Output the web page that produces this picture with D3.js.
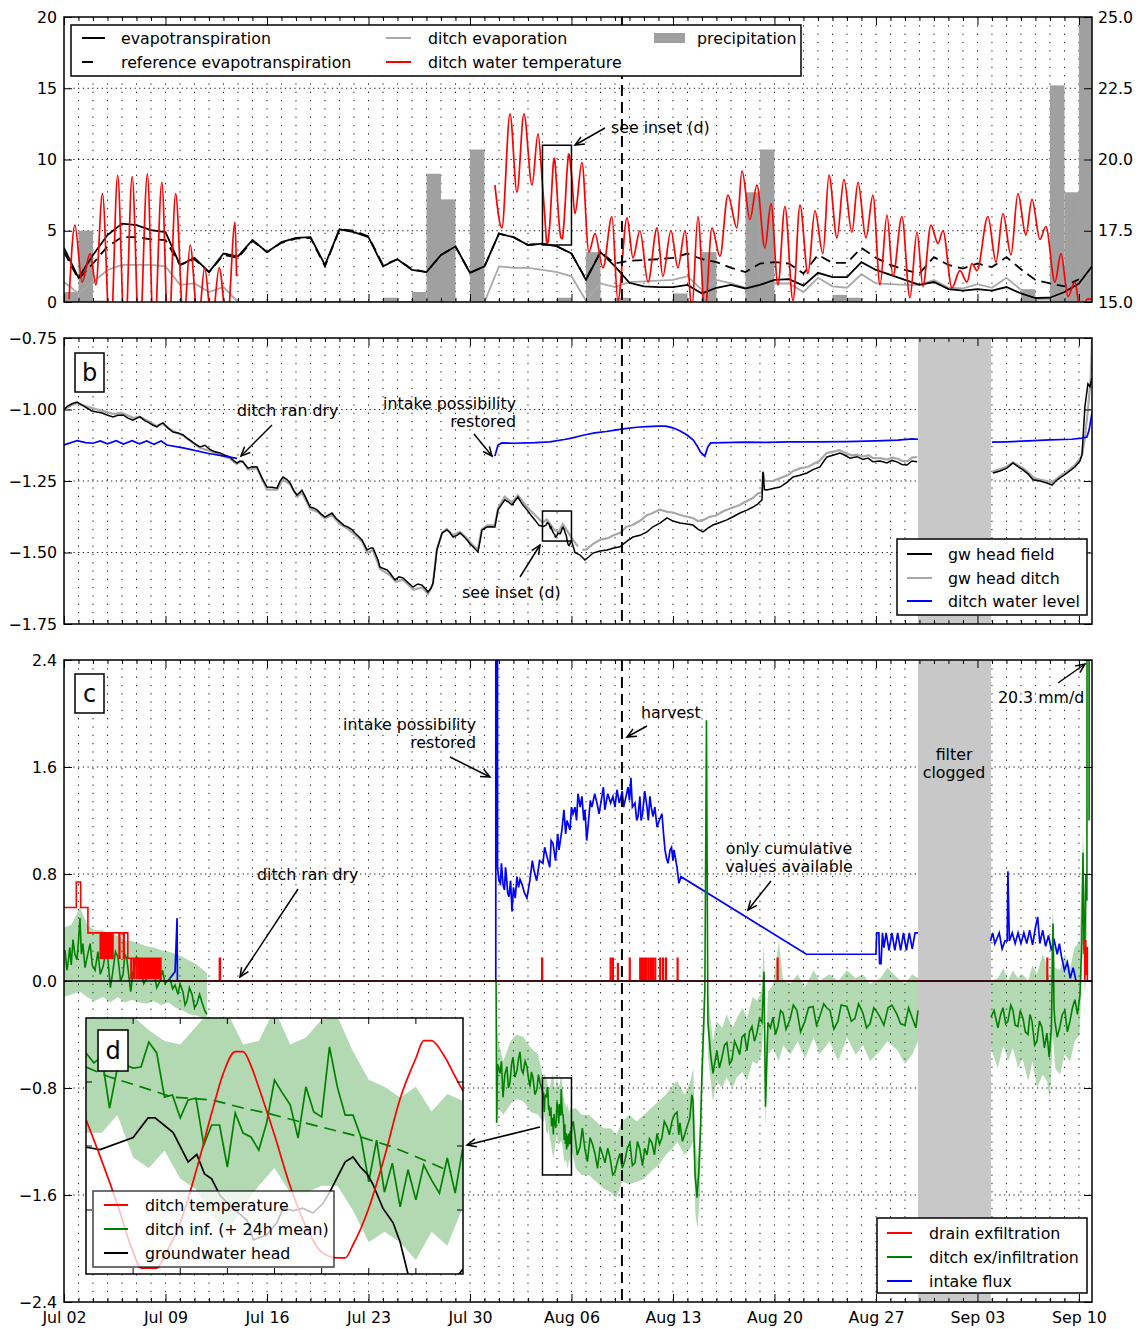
<!DOCTYPE html>
<html><head><meta charset="utf-8">
<script src="https://cdn.jsdelivr.net/npm/d3@7"></script>
<style>body{margin:0;background:#fff}svg{font-family:"DejaVu Sans",sans-serif}</style>
</head><body>
<svg id="chart" width="1138" height="1329"></svg>
<script>
// ---------- time axis (days since Jul 02 00:00) ----------
const weekLabels = ["Jul 02","Jul 09","Jul 16","Jul 23","Jul 30","Aug 06","Aug 13","Aug 20","Aug 27","Sep 03","Sep 10"];
const harvestDay = 38.48;
const cloggedDays = [58.9, 63.93];

// ---------- panel (a): daily fluxes (mm/d) ----------
const precipitation = [[0,0.7],[1,5.0],[2,0.1],[16,0.1],[19,0.1],[22,0.3],[24,0.7],[25,9.0],[26,7.2],[28,10.7],[32,0.1],[34,0.3],[36,3.5],[38,0.3],[42,0.6],[44,3.5],[47,7.7],[48,10.7],[52,0.1],[53,0.5],[54,0.3],[66,0.9],[67,0.1],[68,15.2],[69,7.7],[70,22.0]];
const evapotranspiration = [[0,3.8],[1,1.7],[2,3.3],[3,4.7],[4,5.5],[5,5.4],[6,5.05],[7,4.9],[8,2.6],[9,3.1],[10,2.1],[11,3.4],[12,3.2],[13,4.35],[14,3.5],[15,4.2],[16,4.5],[17,4.55],[18,2.6],[19,5.1],[20,4.9],[21,4.55],[22,2.5],[23,3.0],[24,2.25],[25,2.1],[26,3.3],[27,3.9],[28,2.05],[29,2.5],[30,4.8],[31,4.55],[32,4.0],[33,4.1],[34,3.9],[35,3.4],[36,1.55],[37,3.5],[38,2.5],[39,1.35],[40,1.1],[41,1.05],[42,1.05],[43,1.2],[44,0.6],[45,1.0],[46,1.2],[47,0.95],[48,1.2],[49,1.55],[50,1.6],[51,1.15],[52,2.05],[53,1.75],[54,1.75],[55,2.8],[56,2.25],[57,1.9],[58,1.55],[59,1.2],[60,1.4],[61,0.9],[62,0.8],[63,0.9],[64,0.8],[65,1.05],[66,0.6],[67,0.28],[68,0.3],[69,0.7],[70,1.3],[70.9,2.5]];
const referenceEt = [[0,3.5],[1,1.6],[2,2.7],[3,3.9],[4,4.55],[5,4.55],[6,4.4],[7,4.35],[8,2.6],[9,3.0],[10,2.1],[11,3.3],[12,3.1],[13,4.3],[14,3.5],[15,4.15],[16,4.45],[17,4.5],[18,2.5],[19,5.1],[20,5.0],[21,4.6],[22,2.6],[23,3.0],[24,2.3],[25,2.1],[26,3.3],[27,3.9],[28,2.05],[29,2.5],[30,4.8],[31,4.55],[32,4.0],[33,4.1],[34,3.9],[35,3.4],[36,1.6],[37,3.5],[38,2.7],[39,2.9],[40,2.95],[41,3.0],[42,3.1],[43,3.4],[44,3.0],[45,2.8],[46,2.4],[47,2.1],[48,2.7],[49,2.8],[50,2.7],[51,2.0],[52,3.3],[53,2.75],[54,2.75],[55,3.8],[56,3.1],[57,2.6],[58,2.25],[59,2.0],[60,3.15],[61,2.6],[62,2.35],[63,2.7],[64,2.45],[65,3.15],[66,2.3],[67,1.55],[68,1.3],[69,1.1],[70,1.6]];
const ditchEvaporation = [[0,1.4],[1,0.6],[2,1.4],[3,2.25],[4,2.6],[5,2.6],[6,2.6],[7,2.5],[8,1.2],[9,1.3],[10,0.7],[11,1.05],[12,0],[20,0],[29,0],[30,2.5],[31,2.4],[32,2.4],[33,2.25],[34,2.1],[35,1.8],[36,0.1],[37,1.3],[38,1.05],[39,1.4],[40,1.45],[41,1.5],[42,1.55],[43,1.8],[44,0.85],[45,1.55],[46,1.3],[47,1.0],[48,1.2],[49,1.3],[50,1.3],[51,0.7],[52,1.7],[53,1.1],[54,1.0],[55,1.95],[56,1.3],[57,1.25],[58,1.2],[59,1.2],[60,1.55],[61,1.0],[62,0.95],[63,1.25],[64,1.0],[65,1.7],[66,0.85],[67,0.2],[68,0.2],[69,0.5],[70,1.05],[70.9,2.25]];

// ditch water temperature (deg C)
const tempJuly = [[0.35,15.1],[0.75,17.7],[1.25,15.7],[1.8,16.7],[2.2,15.6],[2.65,18.8],[3.2,13.5],[3.7,19.45],[4.2,13.5],[4.7,19.4],[5.2,13.5],[5.75,19.5],[6.2,13.5],[6.75,19.2],[7.2,13.5],[7.7,18.8],[8.25,14.2],[8.7,17.0],[9.25,14.2],[9.7,16.2],[10.2,14.2],[10.7,16.2],[11.25,14.2],[11.8,17.8],[11.9,15.9]];
const tempAugA = [[29.72,19.1],[30.2,17.6],[30.76,21.6],[31.24,18.85],[31.72,21.6],[32.28,19.1],[32.69,20.9]];
const tempAugB = [[35.24,18.1],[35.72,19.9],[36.2,16.75],[36.62,17.4],[37.17,16.2],[37.79,18.0],[38.2,15.05],[38.83,17.95],[39.24,16.55],[39.72,17.5],[40.28,15.7],[40.9,17.6],[41.3,15.9],[41.86,17.5],[42.34,16.2],[42.83,17.5],[43.31,14.8],[43.72,18.0],[44.2,14.6],[44.69,17.6],[45.24,16.6],[45.79,18.75],[46.41,17.6],[46.76,19.6],[47.31,17.9],[47.79,19.1],[48.34,16.9],[48.76,18.45],[49.24,15.6],[49.72,18.35],[50.28,15.05],[50.76,18.4],[51.31,16.0],[51.79,18.2],[52.34,16.7],[52.76,19.45],[53.31,17.25],[53.79,19.3],[54.34,17.45],[54.76,19.2],[55.31,17.25],[55.79,18.75],[56.28,15.6],[56.76,18.05],[57.17,15.9],[57.79,18.0],[58.34,15.15],[58.83,17.45],[59.24,15.55],[59.79,17.7],[60.28,17.05],[60.62,17.5],[61.24,15.5],[61.79,16.1],[62.28,15.7],[62.62,16.35],[62.97,16.1],[63.72,18.0],[64.28,16.4],[64.76,18.1],[65.31,16.65],[65.79,18.8],[66.34,17.35],[66.76,18.6],[67.31,17.2],[67.72,17.65],[68.34,15.7],[68.76,16.7],[69.24,15.2],[69.72,15.7],[70.07,14.8],[70.4,14.9],[70.55,15.1],[70.9,15.1]];

// ---------- detail record Aug 04 00:00 - Aug 06 00:00 (hours) ----------
const detailStartDay = 33;
const tempDetail = [[0,19.11],[2,18.55],[4,17.95],[6,17.3],[7,17.08],[9,17.08],[10,17.25],[12,17.7],[14,18.4],[16,19.2],[17.5,19.75],[19,20.04],[20,20.04],[21,19.85],[22,19.55],[24,18.9],[26,18.2],[28,17.65],[30,17.3],[32,17.22],[33,17.22],[34,17.4],[36,17.9],[38,18.6],[40,19.4],[42,19.95],[43,20.19],[44,20.19],[45.5,20.0],[47,19.7],[48,19.5]];
const headDetail = [[0,-1.408],[1.8,-1.409],[6,-1.404],[7.9,-1.396],[8.8,-1.396],[11.1,-1.402],[13,-1.414],[14.1,-1.411],[15.1,-1.419],[16,-1.421],[17.1,-1.428],[18.7,-1.433],[20.5,-1.438],[21.3,-1.446],[23,-1.444],[24.3,-1.439],[25.1,-1.433],[26.4,-1.434],[27.6,-1.433],[28.9,-1.435],[30.2,-1.431],[31.1,-1.426],[33,-1.414],[34,-1.412],[34.9,-1.416],[35.8,-1.419],[36.5,-1.423],[37.8,-1.433],[39.1,-1.439],[40,-1.447],[41,-1.46],[42.5,-1.472],[44,-1.476],[45.5,-1.47],[47,-1.462],[48,-1.458]];
const infHourly = [-0.824,-0.852,-0.835,-0.980,-0.867,-0.858,-0.867,-0.864,-0.793,-0.824,-0.949,-0.943,-1.008,-0.957,-0.952,-1.085,-1.028,-1.028,-1.147,-0.994,-1.051,-1.062,-1.099,-1.022,-0.901,-0.937,-0.971,-1.065,-0.920,-0.991,-1.005,-0.807,-0.920,-1.000,-1.000,-1.062,-1.189,-1.071,-1.218,-1.136,-1.260,-1.155,-1.240,-1.141,-1.184,-1.221,-1.121,-1.221,-1.090];
const infMean24h = [[0,-0.864],[3,-0.892],[7,-0.92],[11,-0.949],[16,-0.957],[20,-0.98],[23,-0.994],[26.4,-1.014],[30,-1.034],[35,-1.062],[39,-1.09],[43,-1.127],[46.5,-1.161]];
const bandHours = [0,2,4,6,8,10,12,14,16,18,20,22,24,26,28,30,32,34,36,38,40,42,44,46,48];
const bandLowDetail = [-1.05,-1.05,-1.0,-1.12,-1.15,-1.10,-1.18,-1.21,-1.28,-1.33,-1.26,-1.20,-1.15,-1.22,-1.22,-1.20,-1.20,-1.27,-1.36,-1.33,-1.36,-1.41,-1.33,-1.37,-1.26];
const bandHighDetail = [-0.70,-0.70,-0.70,-0.72,-0.76,-0.79,-0.80,-0.75,-0.70,-0.71,-0.80,-0.79,-0.70,-0.80,-0.78,-0.73,-0.72,-0.82,-0.90,-0.92,-0.95,-0.92,-0.99,-0.94,-0.96];

// ---------- panel (b): heads (m) ----------
const headFieldA = [[0,-1.002],[0.2,-0.99],[0.55,-0.98],[0.9,-0.974],[1.24,-0.985],[1.59,-0.995],[1.93,-1.005],[2.28,-1.009],[2.62,-1.012],[2.97,-1.019],[3.38,-1.026],[3.72,-1.02],[4.07,-1.019],[4.41,-1.03],[4.76,-1.037],[5.03,-1.03],[5.24,-1.026],[5.59,-1.04],[5.79,-1.044],[6.14,-1.055],[6.41,-1.061],[6.62,-1.052],[6.83,-1.047],[7.17,-1.065],[7.52,-1.079],[7.86,-1.082],[8.21,-1.089],[8.48,-1.1],[8.69,-1.107],[9.03,-1.12],[9.38,-1.131],[9.72,-1.125],[10.07,-1.14],[10.41,-1.148],[10.76,-1.152],[11.1,-1.16],[11.45,-1.166],[11.72,-1.18],[11.93,-1.187],[12.14,-1.18],[12.34,-1.183],[12.69,-1.205],[12.97,-1.2],[13.31,-1.201],[13.66,-1.24],[14.0,-1.271],[14.34,-1.272],[14.69,-1.275],[14.9,-1.25],[15.1,-1.236],[15.38,-1.245],[15.59,-1.257],[15.86,-1.285],[16.07,-1.299],[16.41,-1.282],[16.69,-1.31],[16.97,-1.341],[17.24,-1.345],[17.45,-1.351],[17.72,-1.365],[18.0,-1.376],[18.48,-1.362],[18.76,-1.38],[19.03,-1.393],[19.31,-1.405],[19.59,-1.411],[19.86,-1.42],[20.07,-1.432],[20.34,-1.445],[20.55,-1.456],[20.9,-1.491],[21.17,-1.484],[21.31,-1.484],[21.66,-1.526],[21.79,-1.551],[22.28,-1.561],[22.48,-1.572],[22.83,-1.596],[23.1,-1.585],[23.38,-1.589],[23.72,-1.605],[24.07,-1.621],[24.41,-1.61],[24.69,-1.614],[24.9,-1.625],[25.1,-1.638],[25.31,-1.625],[25.45,-1.607],[25.59,-1.55],[25.72,-1.491],[26.07,-1.432],[26.41,-1.421],[26.62,-1.43],[26.83,-1.446],[27.1,-1.44],[27.31,-1.432],[27.59,-1.445],[27.79,-1.456],[28.0,-1.47],[28.21,-1.48],[28.55,-1.498],[28.69,-1.46],[28.83,-1.421],[29.17,-1.411],[29.45,-1.41],[29.72,-1.411],[29.93,-1.351],[30.21,-1.33],[30.41,-1.316],[30.69,-1.325],[30.9,-1.334],[31.1,-1.32],[31.31,-1.306],[31.59,-1.33],[31.93,-1.351],[32.21,-1.37],[32.48,-1.386],[32.76,-1.405]];
const headFieldB = [[35.24,-1.5],[35.59,-1.509],[35.93,-1.526],[36.21,-1.515],[36.48,-1.502],[36.97,-1.495],[37.45,-1.491],[37.86,-1.485],[38.34,-1.48],[38.83,-1.46],[39.24,-1.446],[39.72,-1.44],[40.21,-1.428],[40.62,-1.41],[41.1,-1.397],[41.59,-1.379],[42.0,-1.39],[42.48,-1.397],[42.97,-1.4],[43.38,-1.404],[43.72,-1.418],[44.07,-1.428],[44.41,-1.415],[44.76,-1.404],[45.24,-1.395],[45.72,-1.386],[46.14,-1.375],[46.62,-1.362],[47.1,-1.352],[47.52,-1.341],[47.86,-1.33],[48.14,-1.316],[48.21,-1.218],[48.31,-1.28],[48.48,-1.281],[48.9,-1.276],[49.38,-1.271],[49.86,-1.255],[50.28,-1.236],[50.76,-1.23],[51.24,-1.222],[51.66,-1.21],[52.14,-1.201],[52.41,-1.18],[52.62,-1.166],[53.03,-1.16],[53.52,-1.152],[53.86,-1.16],[54.21,-1.17],[54.69,-1.165],[55.1,-1.175],[55.45,-1.17],[55.79,-1.183],[56.28,-1.18],[56.76,-1.187],[57.1,-1.178],[57.45,-1.183],[57.79,-1.192],[58.14,-1.194],[58.48,-1.18],[58.83,-1.183]];
const headFieldC = [[64.07,-1.222],[64.55,-1.215],[65.03,-1.205],[65.45,-1.187],[65.79,-1.2],[66.14,-1.211],[66.48,-1.225],[66.83,-1.246],[67.31,-1.25],[67.79,-1.257],[68.14,-1.264],[68.41,-1.25],[68.69,-1.239],[69.1,-1.225],[69.72,-1.201],[70.07,-1.18],[70.21,-1.159],[70.41,-0.991],[70.62,-0.91],[70.76,-0.92],[70.9,-0.89]];
const headDitch = [[0,-1.0],[0.5,-0.985],[0.9,-0.978],[1.6,-0.99],[2.3,-1.0],[3.0,-1.01],[3.4,-1.015],[4.0,-1.012],[4.8,-1.03],[5.2,-1.025],[5.8,-1.04],[6.4,-1.058],[6.8,-1.05],[7.5,-1.075],[8.2,-1.09],[8.7,-1.11],[9.4,-1.135],[10.1,-1.145],[10.8,-1.16],[11.4,-1.17],[11.9,-1.19],[12.3,-1.18],[12.7,-1.21],[13.3,-1.205],[14.0,-1.28],[14.7,-1.28],[15.1,-1.245],[15.6,-1.262],[16.1,-1.305],[16.4,-1.29],[17.0,-1.348],[17.5,-1.358],[18.0,-1.38],[18.5,-1.37],[19.0,-1.4],[19.6,-1.418],[20.1,-1.44],[20.6,-1.465],[20.9,-1.5],[21.3,-1.492],[21.8,-1.558],[22.5,-1.58],[22.9,-1.602],[23.4,-1.595],[24.1,-1.63],[24.7,-1.622],[25.1,-1.645],[25.45,-1.61],[25.7,-1.49],[26.1,-1.43],[26.4,-1.418],[26.8,-1.44],[27.3,-1.428],[27.8,-1.45],[28.2,-1.475],[28.55,-1.49],[28.8,-1.42],[29.2,-1.405],[29.7,-1.405],[29.95,-1.345],[30.4,-1.305],[30.9,-1.325],[31.3,-1.3],[31.9,-1.34],[32.5,-1.37],[33.0,-1.395],[33.3,-1.385],[33.8,-1.42],[34.1,-1.43],[34.4,-1.4],[34.9,-1.44],[35.3,-1.47],[35.45,-1.478],null,[35.75,-1.49],[36.0,-1.49],[36.5,-1.47],[37.0,-1.455],[37.5,-1.45],[37.9,-1.44],[38.4,-1.43],[38.8,-1.41],[39.2,-1.404],[39.7,-1.39],[40.2,-1.37],[40.6,-1.362],[41.1,-1.35],[41.6,-1.358],[42.0,-1.36],[42.5,-1.369],[43.0,-1.375],[43.4,-1.38],[43.7,-1.39],[44.1,-1.386],[44.5,-1.376],[45.0,-1.37],[45.5,-1.355],[46.0,-1.345],[46.6,-1.334],[47.1,-1.32],[47.5,-1.31],[47.9,-1.292],[48.14,-1.29],[48.21,-1.218],[48.31,-1.25],[48.9,-1.25],[49.4,-1.24],[49.9,-1.23],[50.3,-1.215],[50.8,-1.205],[51.3,-1.201],[51.7,-1.19],[52.1,-1.18],[52.6,-1.152],[53.0,-1.148],[53.5,-1.142],[53.9,-1.152],[54.3,-1.16],[54.7,-1.158],[55.1,-1.165],[55.5,-1.16],[55.8,-1.17],[56.3,-1.17],[56.8,-1.175],[57.1,-1.168],[57.5,-1.172],[57.8,-1.18],[58.2,-1.18],[58.5,-1.168],[58.85,-1.166],null,[64.0,-1.218],[64.5,-1.21],[65.0,-1.2],[65.45,-1.185],[65.8,-1.195],[66.2,-1.208],[66.5,-1.22],[66.9,-1.24],[67.3,-1.245],[67.8,-1.25],[68.1,-1.255],[68.4,-1.245],[68.7,-1.232],[69.1,-1.22],[69.7,-1.195],[70.1,-1.17],[70.25,-1.152],[70.4,-1.1],[70.55,-1.033],[70.62,-1.0],[70.8,-0.9],[70.9,-0.757]];
const ditchLevel = [[0,-1.124],[0.9,-1.109],[1.5,-1.116],[2.0,-1.118],[2.5,-1.11],[3.0,-1.12],[3.6,-1.109],[4.1,-1.121],[4.7,-1.109],[5.2,-1.12],[5.7,-1.11],[6.2,-1.122],[6.7,-1.11],[7.1,-1.124],[8.3,-1.135],[9.9,-1.153],[11.93,-1.171],null,[29.72,-1.163],[29.93,-1.124],[30.2,-1.117],[31.0,-1.118],[31.9,-1.117],[32.5,-1.116],[33.5,-1.113],[34.5,-1.105],[35.0,-1.10],[35.8,-1.09],[36.6,-1.082],[37.4,-1.077],[38.0,-1.072],[38.7,-1.067],[39.5,-1.062],[40.2,-1.06],[41.0,-1.058],[41.5,-1.058],[42.0,-1.064],[42.5,-1.075],[43.0,-1.09],[43.4,-1.107],[43.7,-1.13],[43.9,-1.149],[44.2,-1.163],[44.4,-1.131],[44.6,-1.117],[45.5,-1.116],[47.0,-1.114],[48.5,-1.115],[50.0,-1.113],[52.0,-1.113],[54.0,-1.112],[56.0,-1.11],[57.5,-1.107],[58.5,-1.103],[58.9,-1.104],null,[64.0,-1.114],[65.0,-1.113],[66.5,-1.11],[68.0,-1.106],[69.5,-1.104],[70.2,-1.10],[70.55,-1.096],[70.7,-1.072],[70.9,-1.012]];

// ---------- panel (c): fluxes (mm/d) ----------
const infA = [[0.07,0.23],[0.2,0.08],[0.3,0.15],[0.4,0.25],[0.5,0.12],[0.62,0.31],[0.75,0.2],[0.9,0.16],[1.0,0.3],[1.1,0.47],[1.2,0.2],[1.3,0.28],[1.45,0.1],[1.6,0.18],[1.8,0.28],[1.95,0.12],[2.14,0.08],[2.34,0.22],[2.5,0.05],[2.7,0.11],[2.85,0.2],[2.97,0.23],[3.2,-0.05],[3.38,0.08],[3.55,0.22],[3.72,0.18],[3.9,0.0],[4.07,0.045],[4.2,0.2],[4.34,0.16],[4.6,-0.08],[4.76,0.06],[5.0,0.18],[5.24,0.13],[5.5,-0.02],[5.72,0.02],[5.9,0.12],[6.14,0.1],[6.4,-0.05],[6.62,0.0],[6.8,0.08],[6.97,-0.02],[7.3,0.02],[7.5,-0.06],[7.66,-0.03],[7.86,-0.1],[8.0,-0.02],[8.2,-0.08],[8.35,-0.18],[8.48,-0.15],[8.65,-0.05],[8.83,-0.1],[9.0,-0.2],[9.17,-0.17],[9.35,-0.1],[9.52,-0.16],[9.7,-0.22],[9.86,-0.25]];
const infB1 = [[29.8,0.0],[29.84,-1.06],[29.9,-0.62],[30.07,-0.69],[30.17,-0.6],[30.28,-0.87],[30.4,-0.7],[30.55,-0.64],[30.65,-0.8],[30.76,-0.76],[30.87,-0.62],[30.97,-0.57],[31.1,-0.72],[31.24,-0.67],[31.35,-0.58],[31.45,-0.53],[31.55,-0.66],[31.66,-0.69],[31.8,-0.6],[31.93,-0.64],[32.05,-0.74],[32.14,-0.79],[32.24,-0.68],[32.34,-0.72],[32.48,-0.85],[32.62,-0.81],[32.72,-0.7],[32.83,-0.76]];
const infB2 = [[35.12,-1.05],[35.24,-1.15],[35.4,-1.3],[35.59,-1.24],[35.75,-1.1],[35.93,-1.26],[36.1,-1.35],[36.28,-1.17],[36.45,-1.22],[36.62,-1.29],[36.8,-1.4],[36.97,-1.24],[37.15,-1.3],[37.31,-1.36],[37.5,-1.25],[37.66,-1.32],[37.85,-1.45],[38.0,-1.43],[38.17,-1.35],[38.34,-1.29],[38.5,-1.4],[38.69,-1.34],[38.85,-1.25],[39.03,-1.21],[39.2,-1.38],[39.38,-1.36],[39.55,-1.2],[39.72,-1.26],[39.9,-1.38],[40.05,-1.25],[40.21,-1.3],[40.38,-1.18],[40.55,-1.21],[40.72,-1.3],[40.9,-1.14],[41.07,-1.22],[41.24,-1.17],[41.4,-1.05],[41.59,-1.09],[41.75,-1.15],[41.93,-1.05],[42.1,-1.0],[42.28,-0.98],[42.4,-1.15],[42.48,-1.06],[42.65,-1.2],[42.83,-1.14],[43.0,-1.08],[43.17,-1.02],[43.3,-0.85],[43.38,-0.89],[43.52,-1.44],[43.66,-1.62],[43.79,-1.41],[43.9,-1.1],[44.0,-0.69],[44.2,-0.07],[44.31,1.95],[44.41,-0.31],[44.6,-0.55],[44.76,-0.69],[44.9,-0.6],[45.03,-0.52],[45.2,-0.65],[45.38,-0.57],[45.55,-0.48],[45.72,-0.46],[45.9,-0.62],[46.07,-0.59],[46.25,-0.45],[46.41,-0.49],[46.6,-0.55],[46.76,-0.42],[46.93,-0.4],[47.1,-0.52],[47.28,-0.38],[47.45,-0.34],[47.62,-0.45],[47.79,-0.39],[47.97,-0.28],[48.14,-0.31],[48.28,0.07],[48.38,-0.94],[48.55,-0.31],[48.72,-0.35],[48.9,-0.27],[49.07,-0.4],[49.24,-0.34],[49.42,-0.22],[49.59,-0.24],[49.8,-0.36],[50.07,-0.29],[50.3,-0.18],[50.55,-0.22],[50.8,-0.38],[51.1,-0.3],[51.35,-0.2],[51.66,-0.19],[51.9,-0.33],[52.14,-0.26],[52.4,-0.17],[52.6,-0.2],[52.83,-0.22],[53.1,-0.36],[53.38,-0.3],[53.6,-0.18],[54.0,-0.19],[54.3,-0.3],[54.55,-0.28],[54.8,-0.17],[55.1,-0.24],[55.35,-0.35],[55.59,-0.32],[55.85,-0.2],[56.0,-0.22],[56.28,-0.27],[56.55,-0.33],[56.83,-0.2],[57.1,-0.18],[57.45,-0.25],[57.7,-0.32],[58.0,-0.33],[58.25,-0.2],[58.55,-0.29],[58.75,-0.35],[58.9,-0.22]];
const infC = [[63.93,-0.27],[64.15,-0.22],[64.41,-0.35],[64.6,-0.25],[64.76,-0.2],[64.95,-0.32],[65.1,-0.3],[65.3,-0.18],[65.45,-0.22],[65.6,-0.33],[65.79,-0.34],[65.95,-0.22],[66.14,-0.28],[66.3,-0.38],[66.48,-0.4],[66.62,-0.25],[66.76,-0.3],[66.95,-0.48],[67.1,-0.45],[67.28,-0.3],[67.45,-0.35],[67.62,-0.5],[67.79,-0.39],[67.95,-0.57],[68.1,-0.35],[68.21,0.43],[68.28,-0.2],[68.34,-0.3],[68.5,-0.42],[68.69,-0.34],[68.85,-0.25],[69.03,-0.22],[69.2,-0.38],[69.38,-0.3],[69.55,-0.2],[69.72,-0.14],[69.9,-0.25],[70.07,-0.1],[70.2,0.3],[70.28,0.96],[70.35,0.2],[70.41,0.3],[70.48,0.8],[70.55,0.6],[70.62,20.3],[70.7,1.2],[70.8,20.3],[70.9,20.3]];
// band of ditch ex/infiltration: [day, low, high]
const bandA = [[0,-0.12,0.4],[0.5,-0.1,0.42],[1.1,-0.08,0.55],[1.6,-0.12,0.42],[2.1,-0.15,0.38],[2.7,-0.12,0.38],[3.2,-0.16,0.35],[3.7,-0.12,0.34],[4.2,-0.16,0.3],[4.7,-0.14,0.3],[5.2,-0.16,0.28],[5.7,-0.17,0.26],[6.2,-0.15,0.25],[6.7,-0.18,0.23],[7.2,-0.16,0.22],[7.7,-0.2,0.2],[8.2,-0.22,0.18],[8.7,-0.25,0.15],[9.2,-0.26,0.12],[9.86,-0.3,0.06]];
const bandB1 = [[29.8,-0.1,0.1],[29.85,-1.15,-0.3],[29.95,-0.95,-0.45],[30.3,-1.0,-0.6],[30.8,-0.92,-0.45],[31.2,-0.88,-0.4],[31.7,-0.9,-0.42],[32.2,-0.98,-0.5],[32.7,-1.0,-0.55]];
const bandB2 = [[35.3,-1.4,-0.95],[35.7,-1.45,-1.0],[36.2,-1.45,-1.0],[36.7,-1.5,-1.05],[37.2,-1.55,-1.1],[37.7,-1.58,-1.1],[38.1,-1.62,-1.15],[38.5,-1.5,-1.05],[39.0,-1.52,-1.0],[39.5,-1.5,-1.05],[40.0,-1.48,-1.0],[40.5,-1.42,-0.95],[41.0,-1.38,-0.9],[41.5,-1.3,-0.85],[42.0,-1.25,-0.78],[42.3,-1.2,-0.75],[42.8,-1.3,-0.85],[43.2,-1.25,-0.75],[43.4,-1.2,-0.65],[43.55,-1.75,-1.2],[43.7,-1.85,-1.35],[43.85,-1.6,-1.1],[44.0,-0.9,-0.5],[44.2,-0.3,0.15],[44.31,1.2,2.12],[44.41,-0.55,-0.1],[44.76,-0.9,-0.45],[45.0,-0.75,-0.3],[45.4,-0.8,-0.35],[45.7,-0.72,-0.25],[46.1,-0.8,-0.35],[46.4,-0.72,-0.28],[46.8,-0.68,-0.2],[47.1,-0.75,-0.28],[47.5,-0.6,-0.12],[47.8,-0.62,-0.15],[48.1,-0.55,-0.08],[48.28,-0.3,0.3],[48.38,-1.1,-0.6],[48.55,-0.55,-0.08],[48.9,-0.5,-0.03],[49.3,-0.6,0.3],[49.6,-0.48,0.0],[50.1,-0.55,-0.02],[50.6,-0.45,0.05],[51.1,-0.58,-0.05],[51.7,-0.42,0.08],[52.1,-0.55,0.0],[52.8,-0.45,0.05],[53.4,-0.6,0.0],[54.0,-0.42,0.08],[54.6,-0.55,0.02],[55.1,-0.48,0.05],[55.6,-0.6,-0.02],[56.3,-0.52,0.02],[56.8,-0.45,0.1],[57.5,-0.52,0.02],[58.0,-0.62,-0.02],[58.5,-0.55,0.05],[58.9,-0.45,0.02]];
const bandC = [[63.93,-0.5,0.0],[64.4,-0.65,0.02],[64.8,-0.48,0.1],[65.1,-0.6,0.0],[65.45,-0.5,0.08],[65.8,-0.65,0.02],[66.1,-0.58,0.05],[66.5,-0.75,0.0],[66.8,-0.6,0.12],[67.1,-0.8,0.05],[67.5,-0.7,0.2],[67.8,-0.75,0.12],[68.0,-0.9,0.0],[68.2,-0.4,0.55],[68.35,-0.65,0.1],[68.7,-0.7,0.08],[69.0,-0.55,0.2],[69.4,-0.6,0.1],[69.7,-0.45,0.25],[70.05,-0.4,0.3],[70.28,0.3,1.13],[70.41,-0.1,0.6],[70.55,0.1,0.9],[70.62,15,25],[70.9,15,25]];
const drainExfiltration = [[0,0.55],[0.85,0.74],[1.15,0.55],[1.65,0.36],[2.1,0.36],[2.5,0.17],[2.55,0.36],[2.6,0.17],[2.66,0.36],[2.72,0.17],[2.78,0.36],[2.84,0.17],[2.9,0.36],[2.96,0.17],[3.02,0.36],[3.08,0.17],[3.14,0.36],[3.2,0.17],[3.26,0.36],[3.32,0.17],[3.38,0.36],[3.8,0.17],[3.85,0.36],[4.1,0.17],[4.15,0.36],[4.4,0.17],[4.62,0.02],[4.66,0.17],[4.8,0.02],[4.85,0.17],[4.98,0.02],[5.03,0.17],[5.15,0.02],[5.2,0.17],[5.3,0.02],[5.36,0.17],[5.45,0.02],[5.52,0.17],[5.6,0.02],[5.66,0.17],[5.74,0.02],[5.8,0.17],[5.88,0.02],[5.94,0.17],[6.0,0.02],[6.07,0.17],[6.15,0.02],[6.22,0.17],[6.3,0.02],[6.37,0.17],[6.45,0.02],[6.52,0.17],[6.6,0.02],[6.64,0.17],[6.68,0],[10.72,0.17],[10.78,0],[32.95,0.17],[33.0,0],[37.68,0.17],[37.72,0],[37.84,0.17],[37.88,0],[38.18,0.13],[38.22,0],[39.0,0.17],[39.04,0],[39.72,0.17],[39.76,0],[39.82,0.17],[39.86,0],[39.92,0.17],[39.96,0],[40.02,0.17],[40.06,0],[40.14,0.17],[40.18,0],[40.3,0.17],[40.34,0],[40.46,0.17],[40.5,0],[40.6,0.17],[40.64,0],[40.76,0.17],[40.8,0],[41.1,0.17],[41.14,0],[41.3,0.17],[41.34,0],[41.5,0.17],[41.54,0],[42.3,0.17],[42.34,0],[49.2,0.17],[49.24,0],[67.8,0.17],[67.84,0],[70.4,0.3],[70.46,0.05],[70.52,0.25],[70.58,0],[70.9,0]];
const intakeFlux = [[7.17,0],[7.66,0.07],[7.8,0.47],[7.82,0],null,[29.78,0],[29.8,30],[29.86,30],[29.9,0.85],[30.0,0.75],[30.1,0.73],[30.17,0.88],[30.28,0.72],[30.38,0.68],[30.45,0.85],[30.5,0.8],[30.6,0.66],[30.69,0.63],[30.8,0.75],[30.9,0.52],[31.0,0.7],[31.12,0.62],[31.24,0.78],[31.35,0.7],[31.45,0.76],[31.6,0.72],[31.75,0.66],[31.93,0.62],[32.05,0.7],[32.14,0.76],[32.3,0.9],[32.41,0.83],[32.6,0.75],[32.8,0.9],[33.03,0.88],[33.15,1.0],[33.31,0.93],[33.5,0.85],[33.6,1.05],[33.72,1.03],[33.9,0.9],[34.05,1.1],[34.14,0.98],[34.34,1.13],[34.48,1.28],[34.6,1.1],[34.69,1.2],[34.9,1.13],[35.0,1.3],[35.1,1.25],[35.24,1.3],[35.35,1.2],[35.45,1.4],[35.6,1.3],[35.72,1.38],[35.85,1.2],[35.93,1.28],[36.05,1.05],[36.14,1.15],[36.3,1.35],[36.41,1.3],[36.6,1.4],[36.76,1.33],[36.9,1.25],[37.1,1.38],[37.2,1.45],[37.3,1.28],[37.5,1.4],[37.7,1.33],[37.86,1.38],[38.0,1.3],[38.14,1.43],[38.3,1.33],[38.5,1.42],[38.6,1.3],[38.76,1.38],[38.9,1.45],[39.0,1.35],[39.1,1.52],[39.2,1.3],[39.38,1.33],[39.5,1.2],[39.59,1.23],[39.72,1.38],[39.8,1.2],[39.9,1.25],[40.05,1.42],[40.21,1.3],[40.3,1.2],[40.41,1.38],[40.5,1.3],[40.62,1.23],[40.75,1.3],[40.9,1.15],[41.05,1.2],[41.24,1.25],[41.35,1.1],[41.45,0.98],[41.55,0.92],[41.66,0.88],[41.8,0.98],[41.9,1.0],[42.0,0.9],[42.07,0.98],[42.2,0.9],[42.28,0.85],[42.41,0.73],[42.55,0.78],[51.2,0.2],[56.0,0.2],[56.05,0.36],[56.2,0.36],[56.25,0.13],[56.35,0.13],[56.45,0.36],[56.55,0.25],[56.7,0.36],[56.9,0.23],[57.1,0.36],[57.3,0.23],[57.5,0.36],[57.7,0.23],[57.9,0.36],[58.1,0.23],[58.3,0.36],[58.5,0.24],[58.7,0.36],[58.9,0.36],null,[63.9,0.3],[64.05,0.36],[64.2,0.28],[64.35,0.32],[64.5,0.36],[64.7,0.24],[64.9,0.3],[65.05,0.3],[65.1,0.82],[65.2,0.3],[65.4,0.36],[65.6,0.28],[65.8,0.36],[66.0,0.28],[66.2,0.36],[66.4,0.28],[66.6,0.38],[66.8,0.27],[67.0,0.4],[67.15,0.48],[67.3,0.28],[67.5,0.38],[67.7,0.26],[67.9,0.34],[68.1,0.23],[68.3,0.3],[68.5,0.2],[68.65,0.28],[68.8,0.18],[69.0,0.08],[69.2,0.14],[69.4,0.02],[69.6,0.1],[69.8,0.0],[70.9,0.0]];

// ---------- assembled series ----------
const toDay = h => detailStartDay + h / 24;
const temperature = [...tempJuly, null, ...tempAugA, ...tempDetail.map(([h,t]) => [toDay(h), t]), ...tempAugB];
const headField = [...headFieldA, ...headDetail.map(([h,v]) => [toDay(h), v]), ...headFieldB, null, ...headFieldC];
const infiltration = [...infA, null, ...infB1, ...infHourly.map((v,h) => [toDay(h), v]), ...infB2, null, ...infC];
const infBand = [...bandA, null, ...bandB1, ...bandHours.map((h,i) => [toDay(h), bandLowDetail[i], bandHighDetail[i]]), ...bandB2, null, ...bandC];

// ---------- layout ----------
const svg = d3.select("#chart");
const X0 = 64, X1 = 1092;
const PA = {top:17, bottom:302}, PB = {top:338, bottom:624}, PC = {top:660, bottom:1302};
const x = d3.scaleLinear().domain([0, 70.9]).range([X0, X1]);
const yEt = d3.scaleLinear().domain([0, 20]).range([PA.bottom, PA.top]);
const yTemp = d3.scaleLinear().domain([15, 25]).range([PA.bottom, PA.top]);
const yHead = d3.scaleLinear().domain([-1.75, -0.75]).range([PB.bottom, PB.top]);
const yFlux = d3.scaleLinear().domain([-2.4, 2.4]).range([PC.bottom, PC.top]);
const FONT = 15.8;
const C_RED = "#ff0000", C_GREEN = "#008000", C_BLUE = "#0000ff", C_GRAY = "#a8a8a8";

const defs = svg.append("defs");
function clip(id, x0, y0, x1, y1) {
  defs.append("clipPath").attr("id", id).append("rect").attr("x", x0).attr("y", y0).attr("width", x1 - x0).attr("height", y1 - y0);
  return `url(#${id})`;
}
const clipA = clip("clipA", X0, PA.top, X1, PA.bottom);
const clipB = clip("clipB", X0, PB.top, X1, PB.bottom);
const clipC = clip("clipC", X0, PC.top, X1, PC.bottom);

function lineGen(ys, curve) {
  return d3.line().defined(d => d !== null).x(d => x(d[0])).y(d => ys(d[1])).curve(curve || d3.curveLinear);
}
function grid(p, ys, yVals) {
  const g = svg.append("g").attr("stroke", "#000").attr("stroke-width", 0.9);
  d3.range(1, 71).forEach(d => g.append("line").attr("x1", x(d)).attr("x2", x(d)).attr("y1", p.top).attr("y2", p.bottom).attr("stroke-dasharray", "1.3,7"));
  yVals.forEach(v => g.append("line").attr("x1", X0).attr("x2", X1).attr("y1", ys(v)).attr("y2", ys(v)).attr("stroke-dasharray", "1.3,3.4"));
}
function styleAxis(sel) {
  sel.select(".domain").remove();
  sel.attr("font-size", FONT).attr("font-family", '"DejaVu Sans", sans-serif');
  sel.selectAll("line").attr("stroke-width", 1);
}
function axes(p, ys, yTicks, yFmt, opts) {
  const g = svg.append("g");
  const minor = d3.range(0, 71).filter(d => d % 7 !== 0);
  const major = d3.range(0, 71, 7);
  g.append("g").attr("transform", `translate(0,${p.bottom})`).call(d3.axisBottom(x).tickValues(minor).tickSize(-4).tickSizeOuter(0).tickFormat("")).call(styleAxis);
  g.append("g").attr("transform", `translate(0,${p.bottom})`).call(d3.axisBottom(x).tickValues(major).tickSize(-8).tickSizeOuter(0).tickPadding(10).tickFormat((d, i) => opts.xLabels ? weekLabels[i] : "")).call(styleAxis);
  g.append("g").attr("transform", `translate(0,${p.top})`).call(d3.axisTop(x).tickValues(minor).tickSize(-4).tickSizeOuter(0).tickFormat("")).call(styleAxis);
  g.append("g").attr("transform", `translate(0,${p.top})`).call(d3.axisTop(x).tickValues(major).tickSize(-8).tickSizeOuter(0).tickFormat("")).call(styleAxis);
  g.append("g").attr("transform", `translate(${X0},0)`).call(d3.axisLeft(ys).tickValues(yTicks).tickSize(-8).tickSizeOuter(0).tickPadding(7).tickFormat(yFmt)).call(styleAxis);
  const rs = opts.rightScale || ys;
  const rt = opts.rightTicks || yTicks;
  g.append("g").attr("transform", `translate(${X1},0)`).call(d3.axisRight(rs).tickValues(rt).tickSize(-8).tickSizeOuter(0).tickPadding(6).tickFormat(opts.rightFmt || "")).call(styleAxis);
  svg.append("rect").attr("x", X0).attr("y", p.top).attr("width", X1 - X0).attr("height", p.bottom - p.top).attr("fill", "none").attr("stroke", "#000").attr("stroke-width", 1.5);
}
function txt(xp, yp, s, anchor, size) {
  svg.append("text").attr("x", xp).attr("y", yp).attr("dy", "0.35em").attr("font-size", size || FONT).attr("text-anchor", anchor || "start").attr("fill", "#000").text(s);
}
function arrow(x1, y1, x2, y2) {
  const g = svg.append("g").attr("stroke", "#000").attr("stroke-width", 1.5).attr("fill", "none");
  g.append("line").attr("x1", x1).attr("y1", y1).attr("x2", x2).attr("y2", y2);
  const a = Math.atan2(y2 - y1, x2 - x1), L = 10, s = 0.42;
  g.append("path").attr("d", d3.line()([[x2 - L * Math.cos(a - s), y2 - L * Math.sin(a - s)], [x2, y2], [x2 - L * Math.cos(a + s), y2 - L * Math.sin(a + s)]]));
}
function harvest(p) {
  svg.append("line").attr("x1", x(harvestDay)).attr("x2", x(harvestDay)).attr("y1", p.top).attr("y2", p.bottom)
    .attr("stroke", "#000").attr("stroke-width", 2).attr("stroke-dasharray", "11,6");
}
function markBox(x0, y0, x1, y1) {
  svg.append("rect").attr("x", x0).attr("y", y0).attr("width", x1 - x0).attr("height", y1 - y0).attr("fill", "none").attr("stroke", "#000").attr("stroke-width", 1.5);
}
function panelTag(x0, y0, w, h, s, size) {
  svg.append("rect").attr("x", x0).attr("y", y0).attr("width", w).attr("height", h).attr("fill", "#fff").attr("stroke", "#000").attr("stroke-width", 1.5);
  svg.append("text").attr("x", x0 + w / 2).attr("y", y0 + h / 2).attr("dy", "0.36em").attr("text-anchor", "middle").attr("font-size", size).text(s);
}
function legendBox(x0, y0, x1, y1, opacity) {
  svg.append("rect").attr("x", x0).attr("y", y0).attr("width", x1 - x0).attr("height", y1 - y0)
    .attr("fill", "#fff").attr("fill-opacity", opacity || 1).attr("stroke", "#000").attr("stroke-opacity", opacity || 1).attr("stroke-width", 1.5);
}
function legendLine(x0, x1, yp, color, dash) {
  svg.append("line").attr("x1", x0).attr("x2", x1).attr("y1", yp).attr("y2", yp).attr("stroke", color).attr("stroke-width", 2).attr("stroke-dasharray", dash || null);
}

// ================= panel (a) =================
grid(PA, yEt, [5, 10, 15]);
const gA = svg.append("g").attr("clip-path", clipA);
gA.selectAll("rect.precip").data(precipitation).join("rect").attr("class", "precip")
  .attr("x", d => x(d[0])).attr("width", d => x(d[0] + 1) - x(d[0]))
  .attr("y", d => yEt(d[1])).attr("height", d => yEt(0) - yEt(d[1])).attr("fill", "#a0a0a0");
gA.append("path").datum(ditchEvaporation).attr("d", lineGen(yEt)).attr("fill", "none").attr("stroke", C_GRAY).attr("stroke-width", 1.8);
gA.append("path").datum(referenceEt).attr("d", lineGen(yEt)).attr("fill", "none").attr("stroke", "#000").attr("stroke-width", 1.8).attr("stroke-dasharray", "10,6");
gA.append("path").datum(evapotranspiration).attr("d", lineGen(yEt)).attr("fill", "none").attr("stroke", "#000").attr("stroke-width", 1.8);
gA.append("path").datum(temperature).attr("d", lineGen(yTemp, d3.curveMonotoneX)).attr("fill", "none").attr("stroke", C_RED).attr("stroke-width", 1.7);
harvest(PA);
axes(PA, yEt, [0, 5, 10, 15, 20], d3.format("d"), {rightScale: yTemp, rightTicks: [15, 17.5, 20, 22.5, 25], rightFmt: d3.format(".1f")});
markBox(x(33), yTemp(20.5), x(35), yTemp(17.0));
legendBox(71, 25, 801, 76);
legendLine(82, 105, 38, "#000");
svg.append("line").attr("x1", 82).attr("x2", 93).attr("y1", 62).attr("y2", 62).attr("stroke", "#000").attr("stroke-width", 2);
txt(121, 38, "evapotranspiration");
txt(121, 62, "reference evapotranspiration");
legendLine(386, 411, 38, C_GRAY);
legendLine(386, 411, 62, C_RED);
txt(428, 38, "ditch evaporation");
txt(428, 62, "ditch water temperature");
svg.append("rect").attr("x", 654).attr("y", 33).attr("width", 31).attr("height", 10).attr("fill", "#a0a0a0");
txt(697, 38, "precipitation");
txt(611, 127, "see inset (d)");
arrow(605, 128, 575, 145);

// ================= panel (b) =================
grid(PB, yHead, [-1.5, -1.25, -1.0]);
svg.append("rect").attr("x", x(cloggedDays[0])).attr("y", PB.top).attr("width", x(cloggedDays[1]) - x(cloggedDays[0])).attr("height", PB.bottom - PB.top).attr("fill", "#c8c8c8");
const gB = svg.append("g").attr("clip-path", clipB);
gB.append("path").datum(headDitch).attr("d", lineGen(yHead)).attr("fill", "none").attr("stroke", C_GRAY).attr("stroke-width", 2.2);
gB.append("path").datum(headField).attr("d", lineGen(yHead)).attr("fill", "none").attr("stroke", "#000").attr("stroke-width", 1.5);
gB.append("path").datum(ditchLevel).attr("d", lineGen(yHead)).attr("fill", "none").attr("stroke", C_BLUE).attr("stroke-width", 1.7);
harvest(PB);
axes(PB, yHead, [-1.75, -1.5, -1.25, -1.0, -0.75], d3.format(".2f"), {});
markBox(x(33), yHead(-1.355), x(35), yHead(-1.46));
panelTag(75, 353, 29, 39, "b", 24);
legendBox(897, 539, 1087, 615);
legendLine(907, 932, 554, "#000");
legendLine(907, 932, 578, C_GRAY);
legendLine(907, 932, 601, C_BLUE);
txt(948, 554, "gw head field");
txt(948, 578, "gw head ditch");
txt(948, 601, "ditch water level");
txt(237, 410, "ditch ran dry");
arrow(272, 425, 241, 456);
txt(516, 403, "intake possibility", "end");
txt(516, 421, "restored", "end");
arrow(474, 434, 492, 456);
txt(462, 592, "see inset (d)");
arrow(520, 577, 540, 545);

// ================= panel (c) =================
grid(PC, yFlux, [-1.6, -0.8, 0.8, 1.6]);
svg.append("rect").attr("x", x(cloggedDays[0])).attr("y", PC.top).attr("width", x(cloggedDays[1]) - x(cloggedDays[0])).attr("height", PC.bottom - PC.top).attr("fill", "#c8c8c8");
const gC = svg.append("g").attr("clip-path", clipC);
gC.append("path").datum(infBand).attr("d", d3.area().defined(d => d !== null).x(d => x(d[0])).y0(d => yFlux(d[1])).y1(d => yFlux(d[2])))
  .attr("fill", C_GREEN).attr("fill-opacity", 0.3);
gC.append("path").datum(intakeFlux).attr("d", lineGen(yFlux)).attr("fill", "none").attr("stroke", C_BLUE).attr("stroke-width", 1.7);
gC.append("path").datum(infiltration).attr("d", lineGen(yFlux)).attr("fill", "none").attr("stroke", C_GREEN).attr("stroke-width", 1.6);
gC.append("path").datum(drainExfiltration).attr("d", lineGen(yFlux, d3.curveStepAfter)).attr("fill", "none").attr("stroke", C_RED).attr("stroke-width", 1.6);
svg.append("line").attr("x1", X0).attr("x2", X1).attr("y1", yFlux(0)).attr("y2", yFlux(0)).attr("stroke", "#000").attr("stroke-width", 1.6);
harvest(PC);
axes(PC, yFlux, [-2.4, -1.6, -0.8, 0, 0.8, 1.6, 2.4], d3.format(".1f"), {xLabels: true});
markBox(x(33), yFlux(-0.725), x(35), yFlux(-1.45));
panelTag(75, 674, 29, 39, "c", 24);
txt(476, 724, "intake possibility", "end");
txt(476, 742, "restored", "end");
arrow(450, 757, 490, 777);
txt(641, 712, "harvest");
arrow(647, 726, 627, 737);
txt(789, 848, "only cumulative", "middle");
txt(789, 866, "values available", "middle");
arrow(771, 881, 748, 910);
txt(257, 874, "ditch ran dry");
arrow(298, 889, 240, 977);
txt(954, 754, "filter", "middle");
txt(954, 772, "clogged", "middle");
txt(998, 697, "20.3 mm/d");
arrow(1058, 683, 1085, 664);
arrow(540, 1127, 467, 1145);

// ================= inset (d): Aug 04 - Aug 05 =================
const ins = {x0: 86, x1: 463, y0: 1018, y1: 1274};
const xi = d3.scaleLinear().domain([0, 48]).range([ins.x0, ins.x1]);
const yiInf = d3.scaleLinear().domain([-1.45, -0.725]).range([ins.y1, ins.y0]);
const yiTemp = d3.scaleLinear().domain([17.0, 20.5]).range([ins.y1, ins.y0]);
const yiHead = d3.scaleLinear().domain([-1.46, -1.355]).range([ins.y1, ins.y0]);
const clipD = clip("clipD", ins.x0, ins.y0, ins.x1, ins.y1);
svg.append("rect").attr("x", ins.x0).attr("y", ins.y0).attr("width", ins.x1 - ins.x0).attr("height", ins.y1 - ins.y0).attr("fill", "#fff");
const gD = svg.append("g").attr("clip-path", clipD);
gD.append("path").datum(bandHours.map((h, i) => [h, bandLowDetail[i], bandHighDetail[i]]))
  .attr("d", d3.area().x(d => xi(d[0])).y0(d => yiInf(d[1])).y1(d => yiInf(d[2]))).attr("fill", C_GREEN).attr("fill-opacity", 0.3);
gD.append("path").datum(infHourly.map((v, h) => [h, v])).attr("d", d3.line().x(d => xi(d[0])).y(d => yiInf(d[1])))
  .attr("fill", "none").attr("stroke", C_GREEN).attr("stroke-width", 1.7);
gD.append("path").datum(infMean24h).attr("d", d3.line().x(d => xi(d[0])).y(d => yiInf(d[1])))
  .attr("fill", "none").attr("stroke", C_GREEN).attr("stroke-width", 1.7).attr("stroke-dasharray", "12,7");
gD.append("path").datum(headDetail).attr("d", d3.line().x(d => xi(d[0])).y(d => yiHead(d[1])))
  .attr("fill", "none").attr("stroke", "#000").attr("stroke-width", 1.7);
gD.append("path").datum(tempDetail).attr("d", d3.line().x(d => xi(d[0])).y(d => yiTemp(d[1])).curve(d3.curveMonotoneX))
  .attr("fill", "none").attr("stroke", C_RED).attr("stroke-width", 1.7);
// inset frame ticks
const tk = svg.append("g").attr("stroke", "#000").attr("stroke-width", 1);
d3.range(6, 48, 6).forEach(h => {
  tk.append("line").attr("x1", xi(h)).attr("x2", xi(h)).attr("y1", ins.y0).attr("y2", ins.y0 + 6);
  tk.append("line").attr("x1", xi(h)).attr("x2", xi(h)).attr("y1", ins.y1).attr("y2", ins.y1 - 6);
});
[0.25, 0.5, 0.75].forEach(f => {
  const yy = ins.y0 + f * (ins.y1 - ins.y0);
  tk.append("line").attr("x1", ins.x0).attr("x2", ins.x0 + 6).attr("y1", yy).attr("y2", yy);
  tk.append("line").attr("x1", ins.x1).attr("x2", ins.x1 - 6).attr("y1", yy).attr("y2", yy);
});
svg.append("rect").attr("x", ins.x0).attr("y", ins.y0).attr("width", ins.x1 - ins.x0).attr("height", ins.y1 - ins.y0).attr("fill", "none").attr("stroke", "#000").attr("stroke-width", 1.5);
panelTag(98, 1030, 30, 41, "d", 24);
legendBox(93, 1191, 334, 1267, 0.75);
legendLine(104, 128, 1205, C_RED);
legendLine(104, 128, 1229, C_GREEN);
legendLine(104, 128, 1253, "#000");
txt(145, 1205, "ditch temperature");
txt(145, 1229, "ditch inf. (+ 24h mean)");
txt(145, 1253, "groundwater head");

// legend (c)
legendBox(877, 1218, 1087, 1293);
legendLine(887, 912, 1233, C_RED);
legendLine(887, 912, 1257, C_GREEN);
legendLine(887, 912, 1281, C_BLUE);
txt(929, 1233, "drain exfiltration");
txt(929, 1257, "ditch ex/infiltration");
txt(929, 1281, "intake flux");
</script>
</body></html>
